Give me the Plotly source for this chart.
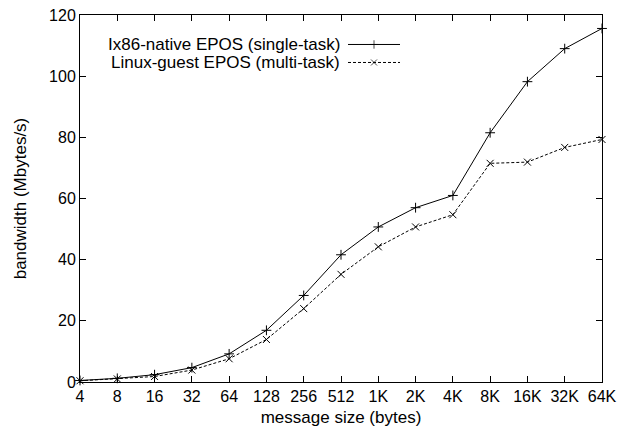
import plotly.graph_objects as go

sizes = ["4", "8", "16", "32", "64", "128", "256", "512", "1K", "2K", "4K", "8K", "16K", "32K", "64K"]
native_single = [0.5, 1.2, 2.4, 4.7, 9.2, 16.9, 28.3, 41.6, 50.7, 57.0, 61.0, 81.5, 98.2, 109.0, 115.6]
guest_multi = [0.4, 1.0, 1.8, 3.9, 7.6, 13.9, 24.0, 35.2, 44.2, 50.7, 54.7, 71.5, 71.9, 76.7, 79.3]
names = ["Ix86-native EPOS (single-task)", "Linux-guest EPOS (multi-task)"]

FONT = "Liberation Sans, Arial, Helvetica, sans-serif"

fig = go.Figure()
fig.add_trace(go.Scatter(
    x=sizes, y=native_single, mode="lines+markers", name=names[0],
    line=dict(color="black", width=1),
    marker=dict(symbol="cross-thin", size=7, line=dict(color="black", width=1)),
    showlegend=False, cliponaxis=False))
fig.add_trace(go.Scatter(
    x=sizes, y=guest_multi, mode="lines+markers", name=names[1],
    line=dict(color="black", width=1, dash="3px,2px"),
    marker=dict(symbol="x-thin", size=7, line=dict(color="black", width=1)),
    showlegend=False, cliponaxis=False))

W, H = 624, 436
L, R, T, B = 80, 22, 14.5, 436 - 381.7
pw, ph = W - L - R, H - T - B
def px(x):
    return (x - L) / pw
def py(y):
    return 1 - (y - T) / ph

rows = [44, 62]
styles = [(None, "cross-thin"), ("3px,2px", "x-thin")]
for name, yy, (dash, sym) in zip(names, rows, styles):
    fig.add_annotation(x=px(342), y=py(yy), xref="paper", yref="paper", text=name,
                       showarrow=False, xanchor="right", yanchor="middle",
                       font=dict(family=FONT, size=17, color="black"))
    fig.add_trace(go.Scatter(x=[px(348), px(374), px(400)], y=[py(yy)] * 3,
                             xaxis="x2", yaxis="y2", mode="lines+markers",
                             line=dict(color="black", width=1, dash=dash),
                             marker=dict(symbol=sym, size=[0, 6, 0],
                                         line=dict(color="black", width=1)),
                             showlegend=False, hoverinfo="skip"))

fig.update_layout(
    width=W, height=H,
    margin=dict(l=L, r=R, t=T, b=B, autoexpand=False),
    paper_bgcolor="white", plot_bgcolor="white",
    font=dict(family=FONT, size=16, color="black"),
    xaxis=dict(type="category", range=[0, len(sizes) - 1], showgrid=False, zeroline=False,
               showline=True, mirror="ticks", linecolor="black", linewidth=1,
               ticks="inside", ticklen=6, tickcolor="black", automargin=False,
               title=dict(text="message size (bytes)", font=dict(size=17), standoff=6),
               tickfont=dict(size=16)),
    yaxis=dict(range=[0, 120], dtick=20, showgrid=False, zeroline=False,
               showline=True, mirror="ticks", linecolor="black", linewidth=1,
               ticks="inside", ticklen=6, tickcolor="black", automargin=False,
               title=dict(text="bandwidth (Mbytes/s)", font=dict(size=17), standoff=18),
               tickfont=dict(size=16)),
    xaxis2=dict(overlaying="x", range=[0, 1], visible=False),
    yaxis2=dict(overlaying="y", range=[0, 1], visible=False),
)

fig.write_html("out.html", config={"displayModeBar": False},
               post_script="document.body.style.margin='0';document.body.style.overflow='hidden';")
